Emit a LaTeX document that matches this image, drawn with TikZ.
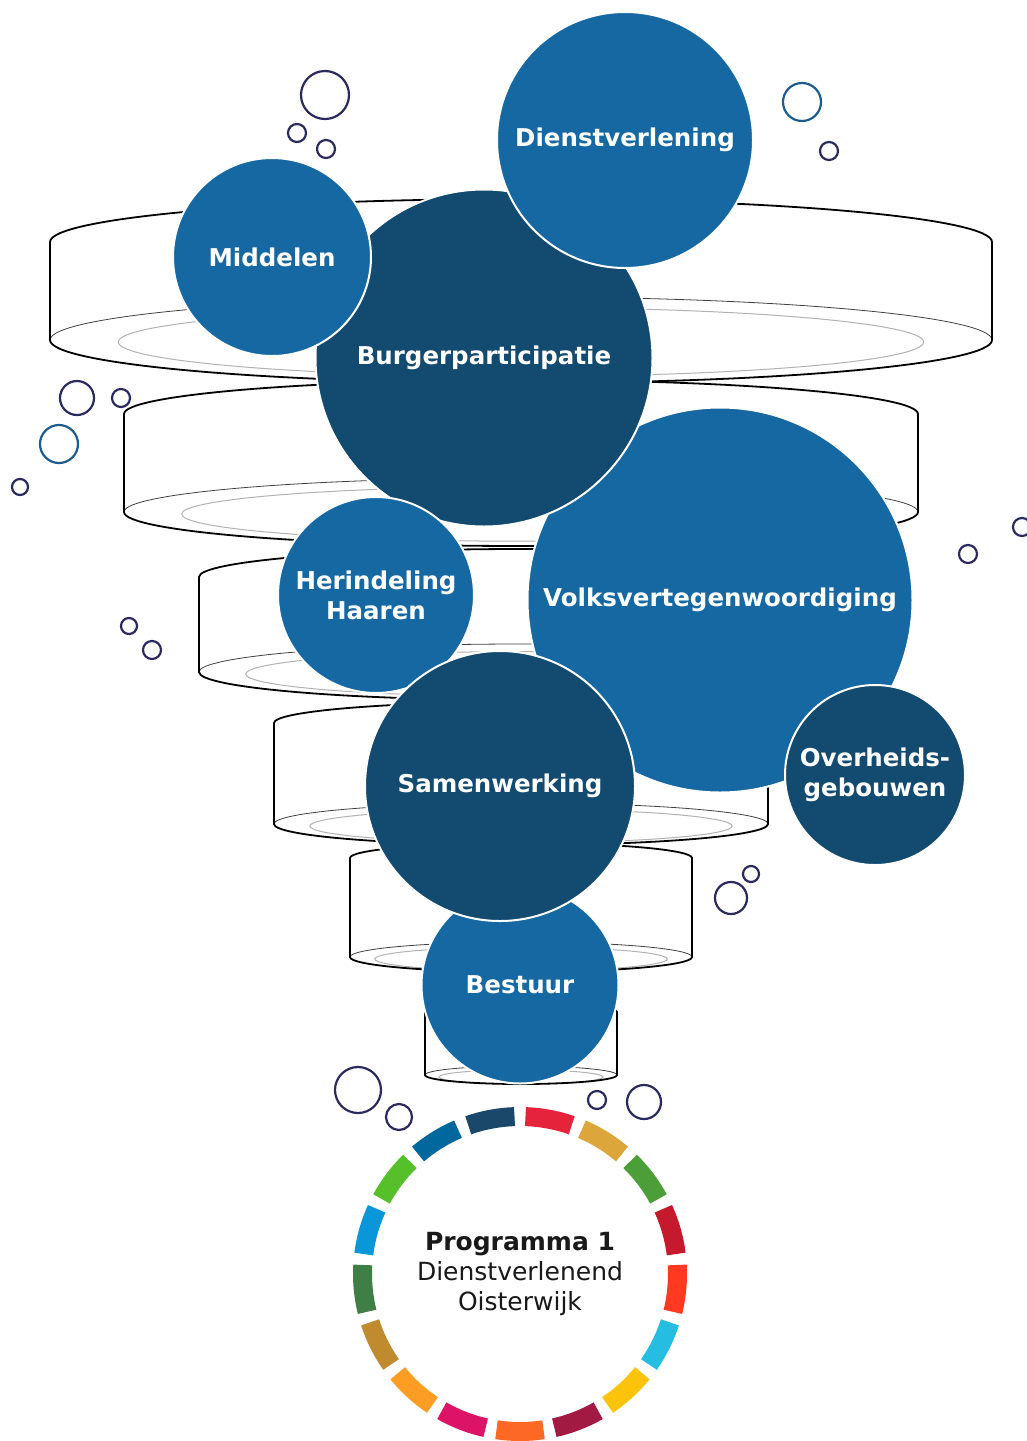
\documentclass[tikz,border=0pt]{standalone}
\usepackage{fontspec}
\setmainfont{DejaVu Sans}
\definecolor{midblue}{HTML}{1668A3}
\definecolor{darkblue}{HTML}{134A6F}
\definecolor{rimnavy}{HTML}{2A2B5C}
\definecolor{rimblue}{HTML}{1E5C8E}
\tikzset{
  bubble/.style={circle,draw=white,line width=2pt,text=white,inner sep=0pt,align=center,
    font=\bfseries\fontsize{24.5}{30}\selectfont},
  tierline/.style={black,line width=1.8pt},
  rimline/.style={black!75,line width=0.8pt},
  floorline/.style={black!30,line width=1pt},
  airbubble/.style={draw=rimnavy,line width=2.2pt}
}
\begin{document}
\begin{tikzpicture}[x=1pt,y=-1pt]
\useasboundingbox (0,0) rectangle (1027,1441);
\fill[white] (0,0) rectangle (1027,1441);

\foreach \rx/\yt/\yb/\ry in {471/242/340/43,397/414/512/34,322/577/672/28,247/723/824/21,171/858/957/15,96/1012/1075/9}{
  \draw[floorline] (521,\yb+2) ellipse[x radius=0.855*\rx, y radius=0.8*\ry];
  \draw[rimline] (521-\rx,\yb) arc[start angle=180, end angle=360, x radius=\rx, y radius=\ry];
  \draw[tierline] (521-\rx,\yb) -- (521-\rx,\yt) arc[start angle=180, end angle=360, x radius=\rx, y radius=\ry]
    -- (521+\rx,\yb) arc[start angle=0, end angle=180, x radius=\rx, y radius=\ry];
}

\foreach \x/\y/\r/\c in {325/95/24/rimnavy,297/133/9/rimnavy,326/149/9/rimnavy,802/102/19/rimblue,829/151/9/rimnavy,
  77/398/17/rimnavy,121/398/9/rimnavy,59/444/19/rimblue,20/487/8/rimnavy,1022/527/9/rimnavy,968/554/9/rimnavy,
  129/626/8/rimnavy,152/650/9/rimnavy,731/898/16/rimnavy,751/874/8/rimnavy,358/1090/23/rimnavy,
  399/1117/13/rimnavy,597/1100/9/rimnavy,644/1102/17/rimnavy}{
  \draw[airbubble,draw=\c] (\x,\y) circle[radius=\r];
}

\node[bubble,fill=midblue,minimum size=385pt] (volks) at (720,600) {Volksvertegenwoordiging};
\node[bubble,fill=darkblue,minimum size=337pt] (burger) at (484,358) {Burgerparticipatie};
\node[bubble,fill=midblue,minimum size=198pt] (middelen) at (272,257) {Middelen};
\node[bubble,fill=midblue,minimum size=256pt] (dienst) at (625,140) {Dienstverlening};
\node[bubble,fill=midblue,minimum size=196pt] (herindeling) at (376,595) {Herindeling\\Haaren};
\node[bubble,fill=midblue,minimum size=197pt] (bestuur) at (520,985) {Bestuur};
\node[bubble,fill=darkblue,minimum size=270pt] (samenwerking) at (500,786) {Samenwerking};
\node[bubble,fill=darkblue,minimum size=180pt] (overheid) at (875,775) {Overheids-\\gebouwen};

\coordinate (ringc) at (520,1274);
\foreach \hex [count=\i] in {E5243B,DDA63A,4C9F38,C5192D,FF3A21,26BDE2,FCC30B,A21942,FD6925,
  DD1367,FD9D24,BF8B2E,3F7E44,0A97D9,56C02B,00689D,19486A}{
  \definecolor{ringpart}{HTML}{\hex}
  \draw[ringpart,line width=19pt] ([shift={({-90+(\i-1)*360/17+2}:157.5)}]ringc)
    arc[start angle={-90+(\i-1)*360/17+2}, end angle={-90+\i*360/17-2}, radius=157.5];
}
\node[align=center,font=\fontsize{25}{30}\selectfont,text=black!90] (programma) at (ringc)
  {\textbf{Programma 1}\\Dienstverlenend\\Oisterwijk};

\end{tikzpicture}
\end{document}
